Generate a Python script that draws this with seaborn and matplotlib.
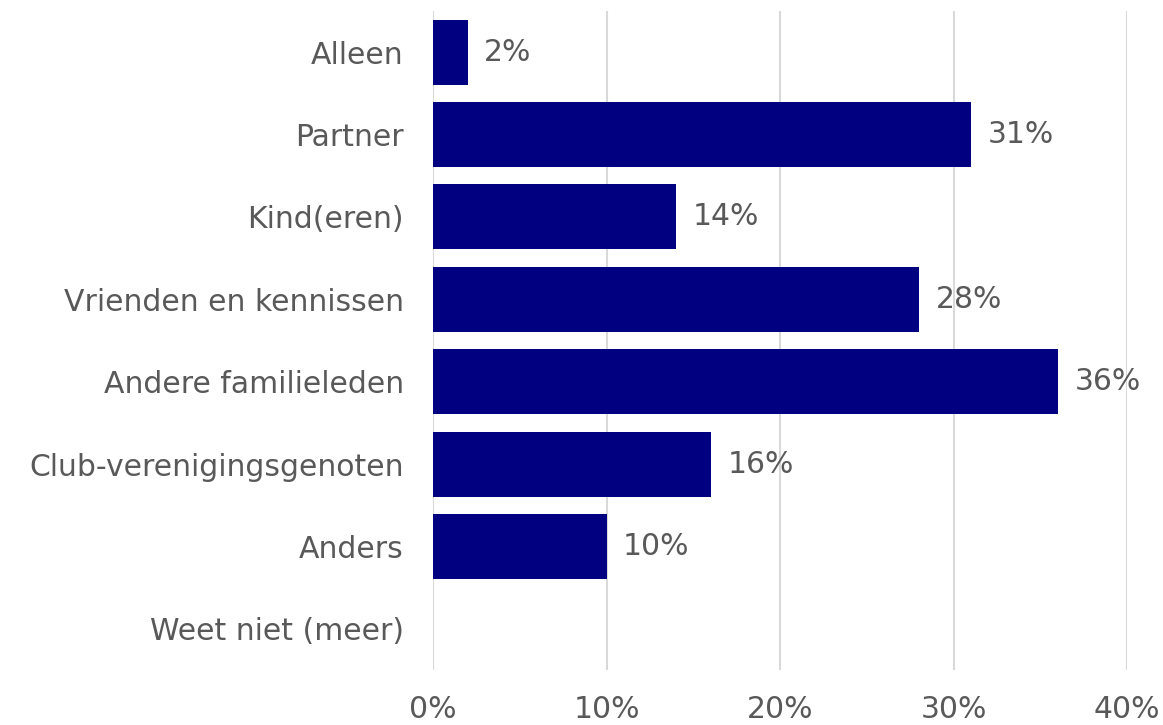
import numpy as np
import pandas as pd
import matplotlib
matplotlib.use("Agg")
import matplotlib.pyplot as plt
import seaborn as sns

# chart data
categories = ["Alleen", "Partner", "Kind(eren)", "Vrienden en kennissen",
              "Andere familieleden", "Club-verenigingsgenoten", "Anders",
              "Weet niet (meer)"]
values = [2, 31, 14, 28, 36, 16, 10, 0]
x_ticks = [0, 10, 20, 30, 40]
x_tick_labels = ["0%", "10%", "20%", "30%", "40%"]

df = pd.DataFrame({"categorie": categories, "pct": values})

sns.set_theme(style="white")
plt.rcParams['font.family'] = ['DejaVu Sans']
text_color = "#595959"
bar_color = "#000080"
fsize = 21.5

fig = plt.figure(figsize=(11.63, 7.25), dpi=100)
ax = fig.add_axes([433 / 1163, 1 - 670 / 725, (1127 - 433) / 1163, (670 - 11) / 725])

sns.barplot(data=df, x="pct", y="categorie", orient="h", color=bar_color,
            width=0.79, saturation=1, linewidth=0, ax=ax, zorder=3)

ax.set_xlim(0, 40)
ax.set_ylim(len(categories) - 0.5, -0.5)
ax.set_xticks(x_ticks)
ax.set_xticklabels(x_tick_labels)
ax.xaxis.grid(True, color="#d9d9d9", linewidth=1.5, zorder=0)
ax.set_axisbelow(True)
for s in ax.spines.values():
    s.set_visible(False)
ax.tick_params(axis="both", length=0, labelsize=fsize, labelcolor=text_color)
ax.tick_params(axis="x", pad=18)
ax.tick_params(axis="y", pad=21)
ax.set_xlabel("")
ax.set_ylabel("")

# value labels next to bars (not for zero)
for i, v in enumerate(values):
    if v > 0:
        ax.annotate(f"{v}%", xy=(v, i), xytext=(12, 0), textcoords="offset points",
                    ha="left", va="center", fontsize=fsize, color=text_color)

fig.savefig("out.png", dpi=100)
